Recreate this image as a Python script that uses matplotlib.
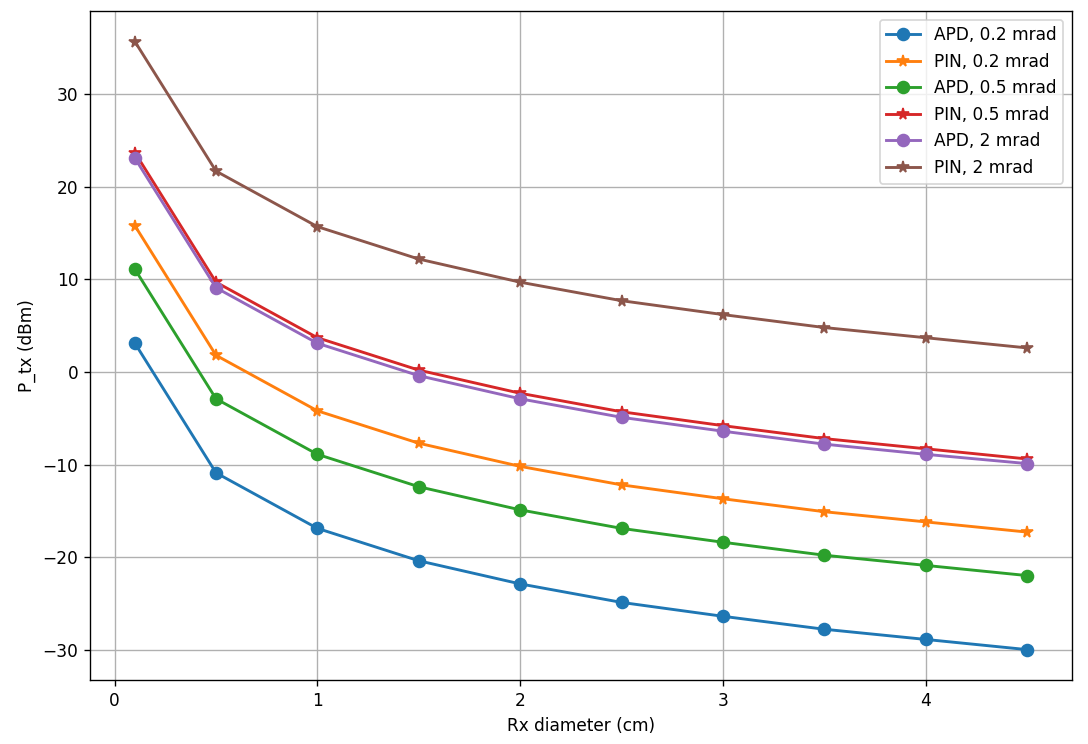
import matplotlib
matplotlib.use('Agg')
import matplotlib.pyplot as plt

# Rx diameter (cm)
diam = [0.1, 0.5, 1.0, 1.5, 2.0, 2.5, 3.0, 3.5, 4.0, 4.5]

# required transmit power (dBm)
apd_02 = [3.1, -10.9, -16.9, -20.4, -22.9, -24.9, -26.4, -27.8, -28.9, -30.0]
pin_02 = [15.8, 1.8, -4.2, -7.7, -10.2, -12.2, -13.7, -15.1, -16.2, -17.3]
apd_05 = [11.1, -2.9, -8.9, -12.4, -14.9, -16.9, -18.4, -19.8, -20.9, -22.0]
pin_05 = [23.7, 9.7, 3.7, 0.2, -2.3, -4.3, -5.8, -7.2, -8.3, -9.4]
apd_2 = [23.1, 9.1, 3.1, -0.4, -2.9, -4.9, -6.4, -7.8, -8.9, -9.9]
pin_2 = [35.7, 21.7, 15.7, 12.2, 9.7, 7.7, 6.2, 4.8, 3.7, 2.6]

dpi = 122
fig, ax = plt.subplots(figsize=(1088 / dpi, 744 / dpi), dpi=dpi)
fig.subplots_adjust(left=0.083, right=0.985, top=0.985, bottom=0.086)

ax.plot(diam, apd_02, marker='o', lw=1.7, ms=7, label='APD, 0.2 mrad')
ax.plot(diam, pin_02, marker='*', lw=1.7, ms=7, label='PIN, 0.2 mrad')
ax.plot(diam, apd_05, marker='o', lw=1.7, ms=7, label='APD, 0.5 mrad')
ax.plot(diam, pin_05, marker='*', lw=1.7, ms=7, label='PIN, 0.5 mrad')
ax.plot(diam, apd_2, marker='o', lw=1.7, ms=7, label='APD, 2 mrad')
ax.plot(diam, pin_2, marker='*', lw=1.7, ms=7, label='PIN, 2 mrad')

ax.set_xlabel('Rx diameter (cm)')
ax.set_ylabel('P_tx (dBm)')
ax.grid(True)
ax.legend(loc='upper right')

fig.savefig('out.png', dpi=dpi)
